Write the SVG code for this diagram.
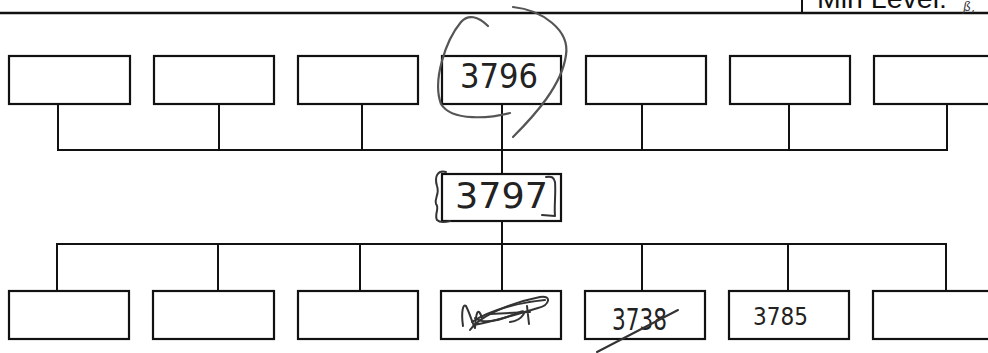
<svg xmlns="http://www.w3.org/2000/svg" width="988" height="353" viewBox="0 0 988 353">
<style>
.box{fill:#fff;stroke:#111;stroke-width:2.2}
.ln{fill:none;stroke:#111;stroke-width:2}
.hw{font-family:"DejaVu Sans",sans-serif;fill:#222}
.pen{fill:none;stroke:#333;stroke-width:2;stroke-linecap:round;stroke-linejoin:round}
.pen2{fill:none;stroke:#555;stroke-width:2.2;stroke-linecap:round}
</style>
<rect width="988" height="353" fill="#fff"/>
<g id="header">
<line x1="0" y1="13" x2="988" y2="13" stroke="#111" stroke-width="2.5"/>
<line x1="802" y1="0" x2="802" y2="13" stroke="#111" stroke-width="2"/>
<text x="817" y="7.5" font-family="Liberation Sans, Arial, sans-serif" font-size="28.5" fill="#111">Min Level:</text>
<text x="963" y="10.5" font-family="DejaVu Serif, serif" font-style="italic" font-size="12" fill="#333">ß,</text>
</g>
<g id="connectors">
<polyline class="ln" points="58,104 58,150 947,150 947,104"/>
<line class="ln" x1="219" y1="104" x2="219" y2="150"/>
<line class="ln" x1="362" y1="104" x2="362" y2="150"/>
<line class="ln" x1="502" y1="104" x2="502" y2="174"/>
<line class="ln" x1="642" y1="104" x2="642" y2="150"/>
<line class="ln" x1="789" y1="104" x2="789" y2="150"/>
<line class="ln" x1="502" y1="221" x2="502" y2="291"/>
<polyline class="ln" points="57,291 57,244 946,244 946,291"/>
<line class="ln" x1="218" y1="244" x2="218" y2="291"/>
<line class="ln" x1="360" y1="244" x2="360" y2="291"/>
<line class="ln" x1="642" y1="244" x2="642" y2="291"/>
<line class="ln" x1="788" y1="244" x2="788" y2="291"/>
</g>
<g id="top1"><rect class="box" x="9" y="56" width="121" height="48"/></g>
<g id="top2"><rect class="box" x="154" y="56" width="120" height="48"/></g>
<g id="top3"><rect class="box" x="298" y="56" width="120" height="48"/></g>
<g id="top4"><rect class="box" x="442" y="56" width="119" height="48"/>
<text class="hw" x="460" y="88" font-size="33" textLength="78" lengthAdjust="spacingAndGlyphs">3796</text>
<path class="pen2" d="M488,26 C478,16 468,14 461,22 C446,40 432,80 441,104 C452,122 490,118 510,113"/>
<path class="pen2" d="M513,7 C542,10 570,30 566,55 C562,85 535,115 513,137"/>
</g>
<g id="top5"><rect class="box" x="586" y="56" width="120" height="48"/></g>
<g id="top6"><rect class="box" x="730" y="56" width="120" height="48"/></g>
<g id="top7"><rect class="box" x="874" y="56" width="120" height="48"/></g>
<g id="mid"><rect class="box" x="442" y="174" width="119" height="47"/>
<text class="hw" x="455" y="208" font-size="35" textLength="93" lengthAdjust="spacingAndGlyphs">3797</text>
<path class="pen" d="M446,172 C438,170 434,176 437,186 C440,194 434,198 436,204 C440,208 434,214 437,220 C440,223 446,222 450,221"/>
<path class="pen" d="M546,177 C551,176 554,177 555,182 C556,194 554,206 555,216 L542,215"/>
</g>
<g id="bot1"><rect class="box" x="9" y="291" width="120" height="48"/></g>
<g id="bot2"><rect class="box" x="153" y="291" width="121" height="48"/></g>
<g id="bot3"><rect class="box" x="298" y="291" width="120" height="48"/></g>
<g id="bot4"><rect class="box" x="441" y="291" width="120" height="48"/>
<path class="pen" d="M463,326 C461,312 463,303 466,306 C470,314 472,322 475,328 C476,312 478,306 482,318"/>
<path class="pen" d="M470,330 C478,318 505,304 540,297 C552,295 550,305 538,308 C515,315 490,322 474,325"/>
<path class="pen" d="M472,322 C490,310 520,302 545,300"/>
<path class="pen" d="M475,318 C485,326 505,318 520,312 C528,308 524,320 510,322"/>
<path class="pen" d="M490,314 L530,312 M527,306 L529,324"/>
</g>
<g id="bot5"><rect class="box" x="585" y="291" width="120" height="48"/>
<text class="hw" x="612" y="330" font-size="30" textLength="55" lengthAdjust="spacingAndGlyphs">3738</text>
<path class="pen" d="M597,352 L678,310"/>
</g>
<g id="bot6"><rect class="box" x="729" y="291" width="120" height="48"/>
<text class="hw" x="753" y="325" font-size="24" textLength="55" lengthAdjust="spacingAndGlyphs">3785</text>
</g>
<g id="bot7"><rect class="box" x="873" y="291" width="121" height="48"/></g>
</svg>
